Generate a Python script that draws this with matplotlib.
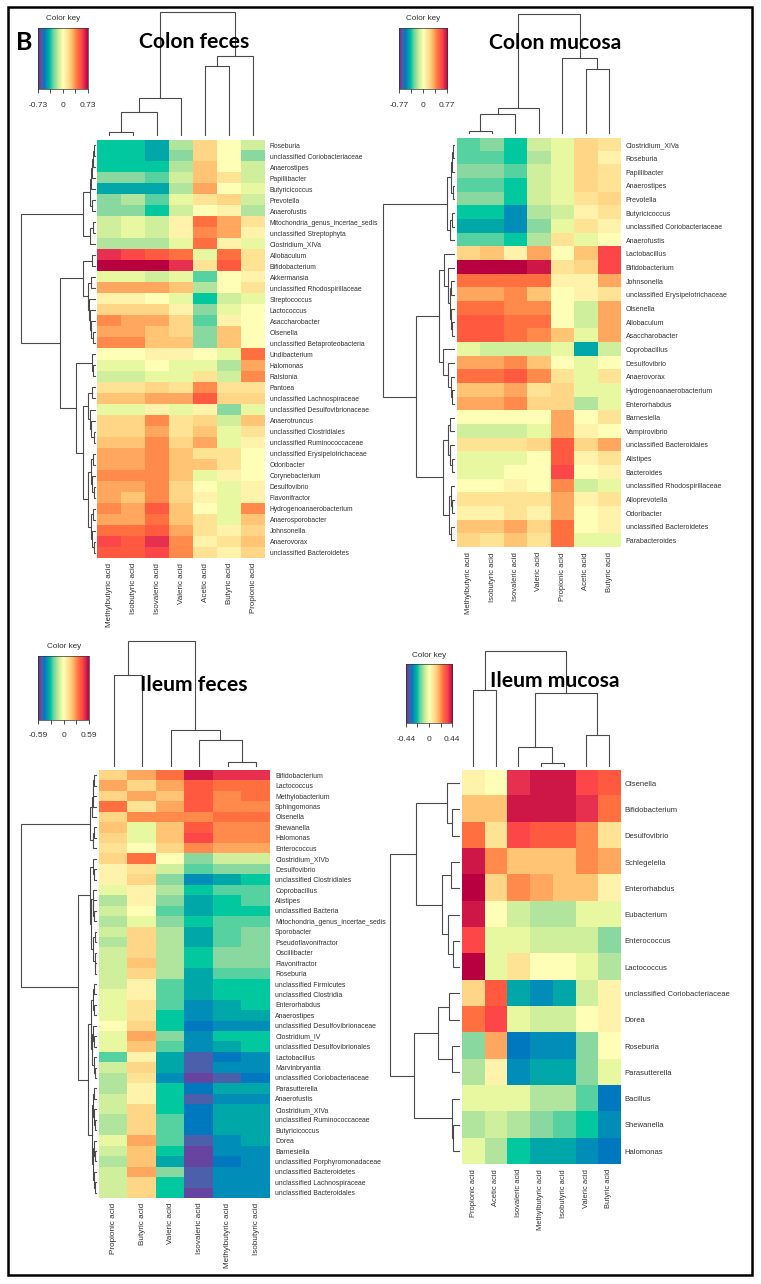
from matplotlib import pyplot as plt
from matplotlib.colors import LinearSegmentedColormap, Normalize
import numpy as np

plt.rcParams['font.family'] = ['Liberation Sans', 'DejaVu Sans']

W = 761
H = 1284

# colours of the key, one for each level from -12 to 12
key_colors = ["#3f3f8f", "#6a45a0", "#4b60ab", "#0078c0", "#0090b8", "#00a8a8", "#00c8a0",
              "#5ad2a0", "#88d8a0", "#b0e49c", "#d0f09c", "#e8f8a0", "#ffffb8",
              "#fff2aa", "#ffe496", "#ffd888", "#ffc474", "#ffa95f", "#ff8c4c",
              "#ff7040", "#ff5a40", "#ff4848", "#e83050", "#d01848", "#b80040"]
cmap = LinearSegmentedColormap.from_list("key", key_colors, N=256)
norm = Normalize(-12, 12)

# ---- Colon feces
cf_cols = ["Methylbutyric acid", "Isobutyric acid", "Isovaleric acid", "Valeric acid",
           "Acetic acid", "Butyric acid", "Propionic acid"]
cf_rows = ["Roseburia", "unclassified Coriobacteriaceae", "Anaerostipes", "Papillibacter",
           "Butyricicoccus", "Prevotella", "Anaerofustis", "Mitochondria_genus_incertae_sedis",
           "unclassified Streptophyta", "Clostridium_XIVa", "Allobaculum", "Bifidobacterium",
           "Akkermansia", "unclassified Rhodospirillaceae", "Streptococcus", "Lactococcus",
           "Asaccharobacter", "Olsenella", "unclassified Betaproteobacteria", "Undibacterium",
           "Halomonas", "Ralstonia", "Pantoea", "unclassified Lachnospiraceae",
           "unclassified Desulfovibrionaceae", "Anaerotruncus", "unclassified Clostridiales",
           "unclassified Ruminococcaceae", "unclassified Erysipelotrichaceae", "Odoribacter",
           "Corynebacterium", "Desulfovibrio", "Flavonifractor", "Hydrogenoanaerobacterium",
           "Anaerosporobacter", "Johnsonella", "Anaerovorax", "unclassified Bacteroidetes"]
cf_values = [
    [-6, -6, -7, -3, 3, 0, -2], [-6, -6, -7, -4, 3, 0, -4], [-6, -6, -6, -3, 4, 0, -2],
    [-4, -4, -5, -2, 4, 2, -2], [-7, -7, -7, -3, 5, 0, -1], [-4, -3, -5, -1, 2, 3, -2],
    [-4, -4, -6, -2, 0, 1, -3], [-2, -1, -2, 1, 7, 5, 2], [-2, -1, -2, 1, 6, 5, 1],
    [-3, -3, -3, -1, 7, 1, -1], [10, 9, 8, 7, -1, 7, 2], [12, 12, 12, 10, 2, 8, 2],
    [-1, -1, -2, -1, -5, 0, 1], [5, 5, 5, 4, -3, 0, 2], [1, 1, 0, -1, -6, -2, -1],
    [3, 3, 3, 1, -4, -1, 0], [6, 5, 5, 3, -5, 1, 0], [5, 5, 4, 3, -4, 4, 0],
    [6, 6, 4, 4, -4, 4, 0], [0, 0, 1, 1, 0, -1, 7], [-1, -1, 0, -1, -1, -3, 5],
    [-2, -2, -1, -1, 2, -2, 6], [2, 2, 3, 2, 6, 2, 2], [4, 4, 5, 5, 8, 3, 3],
    [-1, -1, 1, -1, 1, -4, -1], [3, 3, 6, 2, 3, -2, 4], [3, 3, 5, 2, 4, -1, 2],
    [4, 4, 6, 3, 5, -1, 1], [5, 5, 6, 4, 2, 2, 0], [5, 5, 6, 4, 4, 2, 0],
    [6, 6, 6, 4, -1, 1, 0], [5, 5, 6, 3, 0, -1, 1], [5, 4, 6, 3, 1, -1, 1],
    [6, 5, 8, 4, 0, -1, 6], [5, 5, 7, 4, 2, -1, 4], [7, 7, 8, 5, 2, 1, 3],
    [9, 8, 10, 6, 1, 2, 4], [8, 8, 9, 6, 2, 1, 3]]
# trees are (height, left, right), a plain int is a leaf
cf_col_tree = (123, (37, (23, (3, 0, 1), 2), 3), (79, (69, 4, 5), 6))
cf_row_tree = (74,
               (12, (5, (4, (3, (2, (1, 0, 1), 2), 3), 4), (3, 5, 6)), (5, (2, 7, 8), 9)),
               (35,
                (12, (3.5, 10, 11), (7, (4, 12, 13), (6, 14, (5, 15, (4, 16, (2, 17, 18)))))),
                (19, (3.5, 19, (2, 20, 21)),
                 (12,
                  (7, (3, 22, 23), (5, 24, (4, 25, (1.5, 26, 27)))),
                  (7.5, (4, (2, 28, 29), (3, 30, (1.5, 31, 32))),
                   (4, (2.5, 33, 34), (3, 35, (1, 36, 37))))))))

# ---- Colon mucosa
cm_cols = ["Methylbutyric acid", "Isobutyric acid", "Isovaleric acid", "Valeric acid",
           "Propionic acid", "Acetic acid", "Butyric acid"]
cm_rows = ["Clostridium_XIVa", "Roseburia", "Papillibacter", "Anaerostipes", "Prevotella",
           "Butyricicoccus", "unclassified Coriobacteriaceae", "Anaerofustis", "Lactobacillus",
           "Bifidobacterium", "Johnsonella", "unclassified Erysipelotrichaceae", "Olsenella",
           "Allobaculum", "Asaccharobacter", "Coprobacillus", "Desulfovibrio", "Anaerovorax",
           "Hydrogenoanaerobacterium", "Enterorhabdus", "Barnesiella", "Vampirovibrio",
           "unclassified Bacteroidales", "Alistipes", "Bacteroides",
           "unclassified Rhodospirillaceae", "Alloprevotella", "Odoribacter",
           "unclassified Bacteroidetes", "Parabacteroides"]
cm_values = [
    [-5, -4, -6, -2, -1, 3, 2], [-5, -5, -6, -3, -1, 3, 1], [-4, -4, -5, -2, -1, 3, 2],
    [-5, -5, -6, -2, -1, 3, 2], [-4, -4, -6, -2, -1, 2, 3], [-6, -6, -8, -3, -2, 1, 2],
    [-7, -7, -8, -4, -1, 2, 1], [-5, -5, -6, -3, 2, -1, 0], [3, 4, 1, 5, 0, 4, 9],
    [12, 12, 12, 11, 2, 3, 9], [7, 7, 7, 7, 1, 1, 5], [5, 5, 6, 4, 0, 1, 2],
    [7, 7, 6, 6, 0, -2, 5], [8, 8, 7, 7, 0, -2, 5], [8, 8, 7, 6, 4, -1, 5],
    [-1, -2, -2, -2, -1, -7, -2], [5, 5, 6, 4, 0, -1, 0], [7, 7, 8, 6, 2, -1, 2],
    [4, 4, 5, 2, 3, -1, -1], [5, 5, 6, 3, 3, -3, -1], [0, 0, 0, 0, 5, 0, 2],
    [-2, -2, -2, -1, 5, 1, 0], [2, 2, 2, 3, 8, 3, 5], [-1, -1, -1, 0, 8, 1, 2],
    [-1, -1, 0, 0, 9, 0, 1], [0, 0, 1, 0, 6, -2, -1], [2, 2, 2, 2, 5, 1, 2],
    [1, 1, 2, 1, 5, 0, 1], [4, 4, 5, 3, 7, 0, 1], [3, 2, 4, 2, 7, -1, -1]]
cm_col_tree = (119, (25, (19, (2, 0, 1), 2), 3), (75, 4, (64, 5, 6)))
cm_row_tree = (71,
               (7, (3, (2, (1, 0, 1), 2), (1, 3, 4)), (4, (2, 5, 6), 7)),
               (38,
                (15,
                 (10, 8, (6, 9, (4, (3, 10, 11), (3, 12, (1.5, 13, 14))))),
                 (11, 15, (6, 16, (3, 17, (2, 18, 19))))),
                (11, (6, (4, 20, 21), (4, 22, (2, 23, 24))),
                 (5, (3, 25, (1.5, 26, 27)), (3, 28, 29)))))

# ---- Ileum feces
if_cols = ["Propionic acid", "Butyric acid", "Valeric acid", "Isovaleric acid",
           "Methylbutyric acid", "Isobutyric acid"]
if_rows = ["Bifidobacterium", "Lactococcus", "Methylobacterium", "Sphingomonas", "Olsenella",
           "Shewanella", "Halomonas", "Enterococcus", "Clostridium_XIVb", "Desulfovibrio",
           "unclassified Clostridiales", "Coprobacillus", "Alistipes", "unclassified Bacteria",
           "Mitochondria_genus_incertae_sedis", "Sporobacter", "Pseudoflavonifractor",
           "Oscillibacter", "Flavonifractor", "Roseburia", "unclassified Firmicutes",
           "unclassified Clostridia", "Enterorhabdus", "Anaerostipes",
           "unclassified Desulfovibrionaceae", "Clostridium_IV", "unclassified Desulfovibrionales",
           "Lactobacillus", "Marvinbryantia", "unclassified Coriobacteriaceae", "Parasutterella",
           "Anaerofustis", "Clostridium_XIVa", "unclassified Ruminococcaceae", "Butyricicoccus",
           "Dorea", "Barnesiella", "unclassified Porphyromonadaceae", "unclassified Bacteroidetes",
           "unclassified Lachnospiraceae", "unclassified Bacteroidales"]
if_values = [
    [3, 5, 7, 11, 10, 10], [5, 3, 5, 8, 7, 7], [3, 5, 4, 8, 6, 7], [7, 2, 5, 8, 6, 6],
    [3, 6, 6, 6, 7, 7], [4, -1, 4, 8, 6, 6], [3, -1, 4, 9, 6, 6], [2, 0, 3, 6, 5, 5],
    [3, 7, 0, -4, -2, -2], [1, 2, -2, -5, -4, -4], [1, 3, -4, -8, -7, -6],
    [-1, 1, -3, -6, -5, -5], [-3, 1, -4, -7, -6, -5], [-2, 0, -5, -7, -6, -6],
    [-3, -1, -4, -6, -5, -5], [-2, 3, -3, -7, -5, -4], [-3, 3, -3, -7, -5, -4],
    [-2, 3, -3, -6, -4, -4], [-2, 4, -3, -6, -4, -4], [-2, 3, -3, -7, -5, -5],
    [-2, 1, -5, -7, -6, -6], [-1, 1, -5, -7, -6, -6], [-1, 2, -5, -8, -7, -6],
    [-1, 2, -6, -8, -7, -7], [0, 3, -6, -9, -8, -8], [-1, 5, -4, -8, -6, -6],
    [-1, 4, -5, -8, -7, -6], [-5, 1, -7, -10, -9, -8], [-2, 3, -7, -10, -8, -8],
    [-3, 2, -8, -11, -10, -9], [-3, 1, -6, -9, -7, -7], [-2, 1, -6, -10, -8, -8],
    [-2, 3, -6, -9, -7, -7], [-3, 3, -5, -9, -7, -7], [-3, 3, -5, -9, -7, -7],
    [-1, 5, -5, -10, -8, -7], [-2, 4, -6, -11, -8, -8], [-3, 4, -7, -11, -9, -8],
    [-2, 5, -4, -10, -8, -8], [-2, 3, -6, -10, -8, -8], [-2, 3, -6, -11, -8, -8]]
if_col_tree = (125, (91, 0, 1), (36, 2, (25.7, 3, (4, 4, 5))))
if_row_tree = (75,
               (6, (4, (3, (2.5, (1.5, 0, 1), 2), 3), 4), (3, (2, 5, 6), 7)),
               (18,
                (5.5, (3, 8, (2, 9, 10)),
                 (5, (3, 11, (2.5, 12, (2, 13, 14))),
                  (3, (1, 15, 16), (1, 17, (0.8, 18, 19))))),
                (8,
                 (4.5, (3, (2, 20, 21), (2, 22, 23)),
                  (3.5, (2.5, 24, (1.5, 25, 26)), (2, 27, (1, 28, 29)))),
                 (4.3, (3, (2, 30, 31), (2, 32, (1, 33, 34))),
                  (3, (2, 35, (1, 36, 37)), (1.5, 38, (1, 39, 40)))))))

# ---- Ileum mucosa
im_cols = ["Propionic acid", "Acetic acid", "Isovaleric acid", "Methylbutyric acid",
           "Isobutyric acid", "Valeric acid", "Butyric acid"]
im_rows = ["Olsenella", "Bifidobacterium", "Desulfovibrio", "Schlegelella", "Enterorhabdus",
           "Eubacterium", "Enterococcus", "Lactococcus", "unclassified Coriobacteriaceae",
           "Dorea", "Roseburia", "Parasutterella", "Bacillus", "Shewanella", "Halomonas"]
im_values = [
    [1, 0, 10, 11, 11, 9, 8], [4, 4, 11, 11, 11, 10, 7], [7, 2, 9, 8, 8, 6, 2],
    [11, 6, 4, 4, 4, 6, 5], [12, 3, 6, 5, 4, 4, 1], [11, 0, -2, -3, -3, -1, -1],
    [9, -1, -1, -2, -2, -2, -4], [12, -1, 2, 0, 0, -1, -3], [3, 8, -7, -8, -7, -2, 1],
    [7, 9, -1, -2, -2, 0, 1], [-4, 5, -9, -8, -8, -4, 0], [-3, 1, -8, -7, -7, -4, -1],
    [-1, -1, -1, -3, -3, -5, -9], [-3, -2, -3, -4, -5, -6, -8], [-1, -3, -6, -7, -7, -8, -9]]
im_col_tree = (115, (76, 0, 1), (73, (19, 2, (2.4, 3, 4)), (31, 5, 6)))
im_row_tree = (69,
               (43, (12, 0, (7, 1, 2)), (17, (8, 3, 4), (11, 5, (6, 6, 7)))),
               (45, (21, (10, 8, 9), (7, 10, 11)), (7, 12, (6, 13, 14))))

titles = ["Colon feces", "Colon mucosa", "Ileum feces", "Ileum mucosa"]
key_limits = [0.73, 0.77, 0.59, 0.44]


def pixel_axes(fig, x0, y0, x1, y1):
    return fig.add_axes([x0 / W, 1 - y1 / H, (x1 - x0) / W, (y1 - y0) / H])


def draw_tree(ax, node, horizontal):
    # returns position and height of a node, leaves sit at height 0
    if isinstance(node, int):
        return node, 0
    h, left, right = node
    p1, h1 = draw_tree(ax, left, horizontal)
    p2, h2 = draw_tree(ax, right, horizontal)
    a = [p1, p1, p2, p2]
    b = [h1, h, h, h2]
    if horizontal:
        ax.plot(b, a, color="#4a4a4a", lw=0.8, solid_joinstyle="miter", clip_on=False)
    else:
        ax.plot(a, b, color="#4a4a4a", lw=0.8, solid_joinstyle="miter", clip_on=False)
    return (p1 + p2) / 2, h


def panel(fig, box, cols, rows, values, col_tree, row_tree, col_leaf_y, row_leaf_x,
          row_font, col_font):
    x0, y0, x1, y1 = box
    values = np.array(values)
    ax = pixel_axes(fig, x0, y0, x1, y1)
    ax.imshow(values, cmap=cmap, norm=norm, aspect="auto", interpolation="nearest")
    ax.set_xticks(range(len(cols)), cols, rotation=90, fontsize=col_font, color="#333333")
    ax.set_yticks(range(len(rows)), rows, fontsize=row_font, color="#333333")
    ax.yaxis.tick_right()
    ax.tick_params(length=0, pad=3.5)
    for s in ax.spines.values():
        s.set_visible(False)

    top = pixel_axes(fig, x0, col_leaf_y - col_tree[0], x1, col_leaf_y)
    top.set_xlim(-0.5, len(cols) - 0.5)
    top.set_ylim(0, col_tree[0])
    top.axis("off")
    draw_tree(top, col_tree, False)

    left = pixel_axes(fig, row_leaf_x - row_tree[0], y0, row_leaf_x, y1)
    left.set_xlim(row_tree[0], 0)
    left.set_ylim(len(rows) - 0.5, -0.5)
    left.axis("off")
    draw_tree(left, row_tree, True)


def color_key(fig, box, limit, title_y):
    x0, y0, x1, y1 = box
    ax = pixel_axes(fig, x0, y0, x1, y1)
    grad = np.linspace(-12, 12, 256).reshape(1, -1)
    ax.imshow(grad, cmap=cmap, norm=norm, aspect="auto", interpolation="bilinear",
              extent=[-limit, limit, 0, 1])
    ax.set_yticks([])
    ax.set_xticks(np.linspace(-limit, limit, 5),
                  ["-%g" % limit, "", "0", "", "%g" % limit], fontsize=6, color="#333333")
    ax.tick_params(length=3, width=0.6, pad=6, color="#333333")
    for s in ax.spines.values():
        s.set_linewidth(0.5)
        s.set_color("#333333")
    fig.text((x0 + x1) / 2 / W, 1 - title_y / H, "Color key", fontsize=5.9, color="#333333",
             ha="center", va="center")


fig = plt.figure(figsize=(W / 100, H / 100), dpi=100)

panel(fig, (97.3, 139.5, 265, 558.3), cf_cols, cf_rows, cf_values, cf_col_tree, cf_row_tree,
      135, 95, 4.85, 5.8)
panel(fig, (457, 138, 620.7, 547.3), cm_cols, cm_rows, cm_values, cm_col_tree, cm_row_tree,
      132.7, 454, 5.05, 5.5)
panel(fig, (99.3, 770, 270.3, 1198), if_cols, if_rows, if_values, if_col_tree, if_row_tree,
      765.7, 96, 4.95, 5.9)
panel(fig, (462, 770, 620, 1164.3), im_cols, im_rows, im_values, im_col_tree, im_row_tree,
      765.7, 459, 5.5, 5.45)

color_key(fig, (38, 27.7, 87.7, 89.3), key_limits[0], 18.5)
color_key(fig, (399, 28.3, 447.3, 89.3), key_limits[1], 19)
color_key(fig, (38.3, 655.7, 89, 720), key_limits[2], 646.7)
color_key(fig, (405.7, 664.3, 452.3, 723.3), key_limits[3], 655.7)

# panel titles sit over the dendrograms
title_font = dict(family="Lato", weight="bold", fontsize=15.2, color="black", ha="center",
                  va="baseline")
fig.text(194 / W, 1 - 48 / H, titles[0], **title_font)
fig.text(555 / W, 1 - 48.7 / H, titles[1], **title_font)
fig.text(194 / W, 1 - 690.7 / H, titles[2], **title_font)
fig.text(555 / W, 1 - 687.3 / H, titles[3], **title_font)
fig.text(24.5 / W, 1 - 50 / H, "B", family="Lato", weight="bold", fontsize=18, ha="center",
         va="baseline")

# outer frame of the figure
frame = plt.Rectangle((8 / W, 1 - 1275 / H), (751.5 - 8) / W, (1275 - 6.5) / H, fill=False,
                      edgecolor="black", lw=1.8, transform=fig.transFigure)
fig.add_artist(frame)

plt.savefig("out.png", dpi=100)
